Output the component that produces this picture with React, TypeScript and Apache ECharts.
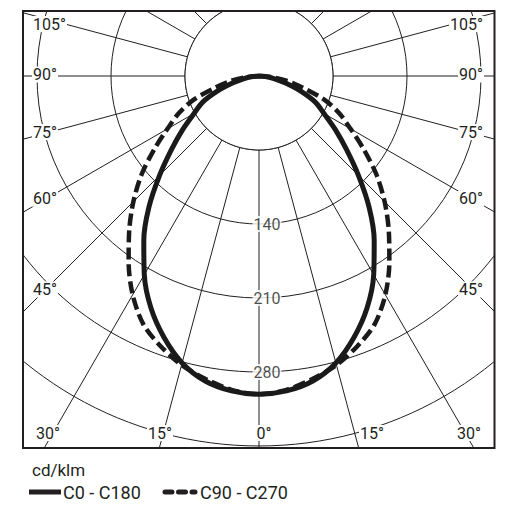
import { useEffect, useRef } from 'react';
import * as echarts from 'echarts';

// luminous intensity in cd/klm, every 5° from nadir (0°) up to horizontal (90°)
const gamma = [0, 5, 10, 15, 20, 25, 30, 35, 40, 45, 50, 55, 60, 65, 70, 75, 80, 85, 90];
const c0c180 = [301, 299, 293, 281, 263, 242, 217, 190, 162, 133, 108, 88, 71, 59, 42, 26, 15, 6, 0];
const c90c270 = [301, 298, 291, 283, 272, 259, 239, 215, 191, 168, 145, 121, 100, 84, 66, 43, 27, 11, 0];

const radialTicks = [140, 210, 280];
const angleTicks = [105, 90, 75, 60, 45, 30, 15, 0];
const unitLabel = 'cd/klm';
const planeNames = ['C0 - C180', 'C90 - C270'];

// layout
const CX = 259;
const CY = 76;
const R_MAX = 420;
const R_PX = 444;
const FRAME = { x: 23, y: 11, w: 471.5, h: 437 };
const INK = '#231f20';
const FONT = 'Roboto';

// right half is 360-γ, left half γ: the curve starts at the top, goes round the bottom and back up
function curve(values: number[]) {
  const pts: number[][] = [];
  for (let i = gamma.length - 1; i > 0; i--) pts.push([values[i], 360 - gamma[i]]);
  for (let i = 0; i < gamma.length; i++) pts.push([values[i], gamma[i]]);
  return pts;
}

function angleLabelPos(deg: number, side: number) {
  if (deg >= 45) {
    const y = Math.max(24, CY - 1.5 + 215 / Math.tan((deg * Math.PI) / 180));
    return side < 0 ? { x: 32, y, align: 'left' } : { x: 484, y, align: 'right' };
  }
  if (deg === 30) return side < 0 ? { x: 35, y: 433, align: 'left' } : { x: 482, y: 433, align: 'right' };
  if (deg === 15) return { x: side < 0 ? 160 : 372, y: 433, align: 'center' };
  return { x: 264, y: 433, align: 'center' };
}

function buildGraphic() {
  const els: any[] = [];
  // the spokes start at the first ring: blank the middle, under the curves
  els.push({
    type: 'circle', silent: true, z: 1,
    shape: { cx: CX, cy: CY, r: (70 / R_MAX) * R_PX },
    style: { fill: '#fff', stroke: INK, lineWidth: 1 },
  });
  const mask = (x: number, y: number, width: number, height: number) => ({
    type: 'rect', silent: true, z: 100, shape: { x, y, width, height }, style: { fill: '#fff' },
  });
  // hide the grid outside the frame
  els.push(mask(0, 0, 512, FRAME.y));
  els.push(mask(0, 0, FRAME.x, 512));
  els.push(mask(FRAME.x + FRAME.w, 0, 512, 512));
  els.push(mask(0, FRAME.y + FRAME.h, 512, 100));
  els.push({
    type: 'rect', silent: true, z: 101,
    shape: { x: FRAME.x, y: FRAME.y, width: FRAME.w, height: FRAME.h },
    style: { fill: 'none', stroke: INK, lineWidth: 2 },
  });

  angleTicks.forEach((deg) => {
    const sides = deg === 0 ? [1] : [-1, 1];
    sides.forEach((side) => {
      const p = angleLabelPos(deg, side);
      els.push({
        type: 'text', silent: true, z: 102, x: p.x, y: p.y,
        style: {
          text: deg + '°', fill: INK, fontSize: 16, fontFamily: FONT,
          align: p.align, verticalAlign: 'middle', backgroundColor: '#fff', padding: [0, 1],
        },
      });
    });
  });

  // legend
  els.push({
    type: 'text', silent: true, z: 102, x: 32, y: 470,
    style: { text: unitLabel, fill: INK, fontSize: 17, fontFamily: FONT, align: 'left', verticalAlign: 'middle' },
  });
  els.push({
    type: 'line', silent: true, z: 102, shape: { x1: 29, y1: 492, x2: 61, y2: 492 },
    style: { stroke: INK, lineWidth: 5 },
  });
  els.push({
    type: 'text', silent: true, z: 102, x: 63, y: 492,
    style: { text: planeNames[0], fill: INK, fontSize: 18, fontFamily: FONT, align: 'left', verticalAlign: 'middle' },
  });
  els.push({
    type: 'line', silent: true, z: 102, shape: { x1: 165, y1: 492, x2: 195, y2: 492 },
    style: { stroke: INK, lineWidth: 5, lineDash: [7, 6.5], lineCap: 'round' },
  });
  els.push({
    type: 'text', silent: true, z: 102, x: 200, y: 492,
    style: { text: planeNames[1], fill: INK, fontSize: 18, fontFamily: FONT, align: 'left', verticalAlign: 'middle' },
  });
  return els;
}

export default function App() {
  const ref = useRef<HTMLDivElement>(null);

  useEffect(() => {
    if (!ref.current) return;
    const chart = echarts.init(ref.current, null, { renderer: 'svg', width: 512, height: 512 });
    chart.setOption({
      animation: false,
      backgroundColor: '#fff',
      polar: { center: [CX, CY], radius: [0, R_PX] },
      radiusAxis: {
        type: 'value', min: 0, max: R_MAX, interval: 70, z: 0,
        axisLine: { show: false }, axisTick: { show: false }, axisLabel: { show: false },
        splitLine: { show: true, lineStyle: { color: INK, width: 1 } },
      },
      angleAxis: {
        type: 'value', min: 0, max: 360, interval: 15, startAngle: 270, clockwise: true, z: 0,
        axisLine: { show: false }, axisTick: { show: false }, axisLabel: { show: false },
        splitLine: { show: true, lineStyle: { color: INK, width: 1 } },
      },
      series: [
        {
          name: planeNames[0], type: 'line', coordinateSystem: 'polar', data: curve(c0c180),
          symbol: 'none', smooth: 0.3, silent: true, z: 3,
          lineStyle: { color: '#1a1a1a', width: 5 },
        },
        {
          name: planeNames[1], type: 'line', coordinateSystem: 'polar', data: curve(c90c270),
          symbol: 'none', smooth: 0.3, silent: true, z: 4,
          lineStyle: { color: '#1a1a1a', width: 4.5, type: [12, 5] },
        },
        {
          type: 'scatter', coordinateSystem: 'polar', silent: true, z: 5,
          data: radialTicks.map((v) => [v, 0]),
          symbolSize: 1, itemStyle: { color: 'rgba(0,0,0,0)' },
          label: {
            show: true, position: 'inside', offset: [8, 0],
            formatter: (p: any) => String(p.value[0]),
            color: INK, fontSize: 16, fontFamily: FONT,
            backgroundColor: '#fff', padding: [0, 1],
          },
        },
      ],
      graphic: buildGraphic(),
    });
    return () => chart.dispose();
  }, []);

  return <div ref={ref} style={{ position: 'fixed', left: 0, top: 0, width: 512, height: 512 }} />;
}
